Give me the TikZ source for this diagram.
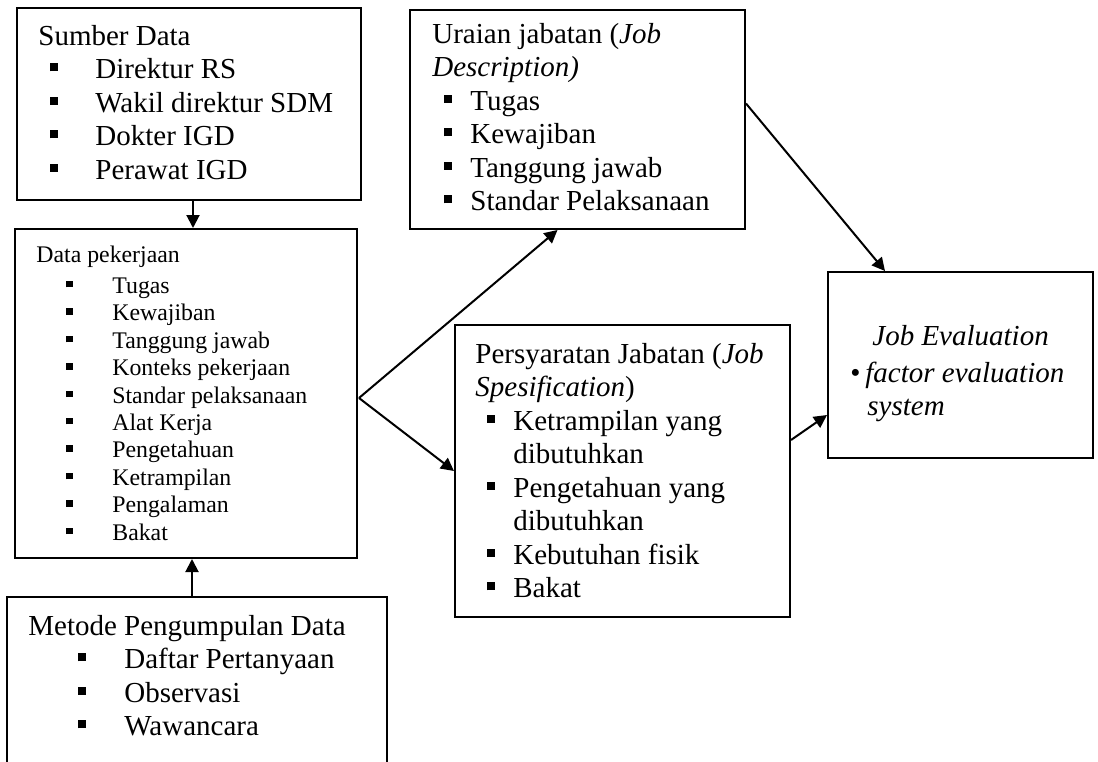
\documentclass[tikz,border=0pt]{standalone}
\usepackage{fontspec}
\setmainfont{Liberation Serif}
\usetikzlibrary{arrows.meta}
\newcommand{\sqb}{\rule[0.25em]{0.27em}{0.27em}}
\newcommand{\itm}[2]{\makebox[#2][l]{\hspace*{#1}\sqb}}

\begin{document}
\begin{tikzpicture}[x=0.5pt, y=-0.5pt,
    box/.style = {draw, line width=1pt, inner sep=0pt},
    txt/.style = {anchor=base west, inner sep=0pt, font=\fontsize{14.5}{16.75}\selectfont},
    small/.style = {txt, font=\fontsize{11.9}{13.7}\selectfont},
    arr/.style = {-{Triangle[length=6.5pt, width=6.5pt]}, line width=1pt}]
    \clip (0,0) rectangle (1098,761);

    \node[box, minimum width=172pt, minimum height=96pt]    (sumber) at (189,104)   {};
    \node[box, minimum width=171pt, minimum height=164.5pt] (datap)  at (186,393.5) {};
    \node[box, minimum width=190pt, minimum height=91.5pt]  (metode) at (197,688.5) {};
    \node[box, minimum width=167.5pt, minimum height=109.5pt] (uraian) at (577.5,119.5) {};
    \node[box, minimum width=167.5pt, minimum height=146pt]   (persy)  at (622.5,471) {};
    \node[box, minimum width=132.5pt, minimum height=93pt]    (jobev)  at (960.5,365) {};

    \node[txt] (sumberT) at (38,45) {\begin{tabular}[t]{@{}l@{}}
        Sumber Data\\
        \itm{6pt}{28.5pt}Direktur RS\\
        \itm{6pt}{28.5pt}Wakil direktur SDM\\
        \itm{6pt}{28.5pt}Dokter IGD\\
        \itm{6pt}{28.5pt}Perawat IGD
    \end{tabular}};
    \node[small] (datapT) at (36,262) {\begin{tabular}[t]{@{}l@{}}
        Data pekerjaan\\[2pt]
        \itm{15pt}{38pt}Tugas\\
        \itm{15pt}{38pt}Kewajiban\\
        \itm{15pt}{38pt}Tanggung jawab\\
        \itm{15pt}{38pt}Konteks pekerjaan\\
        \itm{15pt}{38pt}Standar pelaksanaan\\
        \itm{15pt}{38pt}Alat Kerja\\
        \itm{15pt}{38pt}Pengetahuan\\
        \itm{15pt}{38pt}Ketrampilan\\
        \itm{15pt}{38pt}Pengalaman\\
        \itm{15pt}{38pt}Bakat
    \end{tabular}};
    \node[txt] (metodeT) at (28,635) {\begin{tabular}[t]{@{}l@{}}
        Metode Pengumpulan Data\\
        \itm{25pt}{48pt}Daftar Pertanyaan\\
        \itm{25pt}{48pt}Observasi\\
        \itm{25pt}{48pt}Wawancara
    \end{tabular}};
    \node[txt] (uraianT) at (432,43) {\begin{tabular}[t]{@{}l@{}}
        Uraian jabatan (\textit{Job}\\
        \textit{Description)}\\
        \itm{5.75pt}{19pt}Tugas\\
        \itm{5.75pt}{19pt}Kewajiban\\
        \itm{5.75pt}{19pt}Tanggung jawab\\
        \itm{5.75pt}{19pt}Standar Pelaksanaan
    \end{tabular}};
    \node[txt] (persyT) at (475,363) {\begin{tabular}[t]{@{}l@{}}
        Persyaratan Jabatan (\textit{Job}\\
        \textit{Spesification})\\
        \itm{6pt}{19pt}Ketrampilan yang\\
        \hspace*{19pt}dibutuhkan\\
        \itm{6pt}{19pt}Pengetahuan yang\\
        \hspace*{19pt}dibutuhkan\\
        \itm{6pt}{19pt}Kebutuhan fisik\\
        \itm{6pt}{19pt}Bakat
    \end{tabular}};
    \node[txt, font=\fontsize{14.5}{16.75}\selectfont\itshape] (jobevT) at (850,345) {\begin{tabular}[t]{@{}l@{}}
        \hspace*{11pt}Job Evaluation\\[1.75pt]
        \makebox[7.5pt][l]{\upshape\textbullet}factor evaluation\\
        \hspace*{8.5pt}system
    \end{tabular}};

    \coordinate (fork) at (359,398);
    \draw[arr] ([xshift=2pt]sumber.south) -- ([xshift=2pt]sumber.south |- datap.north);
    \draw[arr] ([xshift=-2.5pt]metode.north) -- ([xshift=-2.5pt]metode.north |- datap.south);
    \draw[arr] (fork) -- ([xshift=-10pt]uraian.south);
    \draw[arr] (fork) -- (persy.west);
    \draw[arr] ([yshift=8pt]uraian.east) -- ([xshift=-37.75pt]jobev.north);
    \draw[arr] ([yshift=15.5pt]persy.east) -- ([yshift=-25pt]jobev.west);
\end{tikzpicture}
\end{document}
